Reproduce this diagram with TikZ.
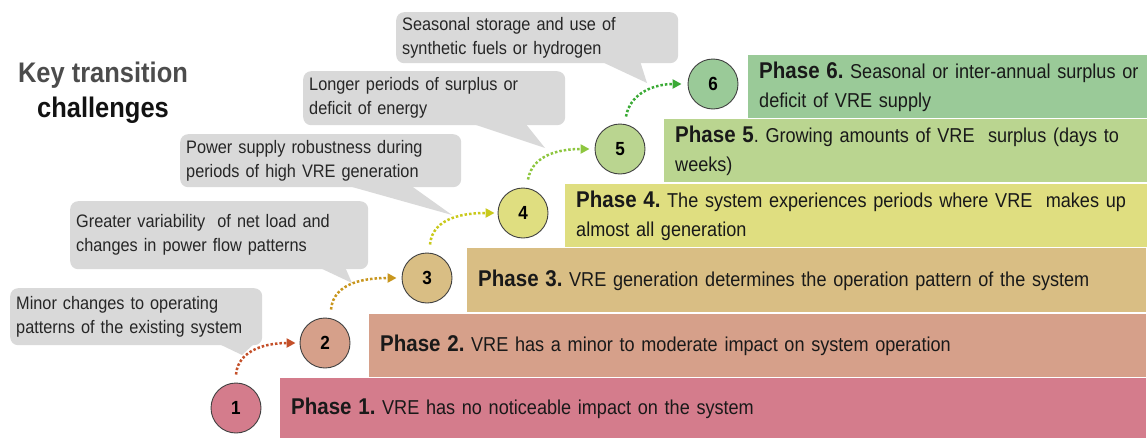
\documentclass[tikz,border=0pt]{standalone}
\usepackage{fontspec}
\setmainfont{Liberation Sans}[FakeStretch = 0.9]
\usetikzlibrary{
    arrows.meta,
    positioning
}
\definecolor{phaseone}{HTML}{D47C8C}
\definecolor{phasetwo}{HTML}{D6A08A}
\definecolor{phasethree}{HTML}{D9BE84}
\definecolor{phasefour}{HTML}{DFDE80}
\definecolor{phasefive}{HTML}{BAD590}
\definecolor{phasesix}{HTML}{9ACA98}
\definecolor{hopone}{HTML}{C4502A}
\definecolor{hoptwo}{HTML}{C8961E}
\definecolor{hopthree}{HTML}{C9C91C}
\definecolor{hopfour}{HTML}{8DC63F}
\definecolor{hopfive}{HTML}{3AAA35}
\definecolor{notegray}{HTML}{D9D9D9}
\newcommand{\phasetag}[1]{{\fontsize{22.8}{29}\selectfont\bfseries #1}}
\tikzset {
    phase/.style = {
        rectangle, anchor = north west,
        inner xsep = 11pt, inner ysep = 0pt,
        align = left, text = black!90,
        font = \fontsize{20.1}{29}\selectfont\frenchspacing
    },
    stage/.style = {
        circle, draw = black!75, line width = 0.9pt,
        minimum size = 50pt, inner sep = 0pt,
        font = \fontsize{19}{19}\selectfont\bfseries
    },
    note/.style = {
        rectangle, rounded corners = 8pt, fill = notegray,
        anchor = north west, inner xsep = 6pt, inner ysep = 0pt,
        align = left, text = black!85,
        font = \fontsize{18.1}{24}\selectfont
    },
    tail/.style = {fill = notegray},
    title/.style = {font = \fontsize{28.3}{35}\selectfont\bfseries},
    hop/.style = {
        line width = 2.5pt, dash pattern = on 2.5pt off 2pt,
        -{Triangle[length = 9pt, width = 9pt]}
    }
}
\begin{document}
\begin{tikzpicture}[x = 1pt, y = -1pt]
    \useasboundingbox (0, 0) rectangle (1147, 439);
    % title
    \node (key) [title, text = black!70] at (103, 75) {Key transition};
    \node (chal) [title, text = black!93] at (103, 110) {challenges};
    % phase bars (they run past the right edge)
    \node (p1) [phase, fill = phaseone, text width = 844pt, minimum height = 60pt]
        at (280, 378) {\phasetag{Phase 1.} VRE has no noticeable impact on the system};
    \node (p2) [phase, fill = phasetwo, text width = 755pt, minimum height = 63pt]
        at (369, 314) {\phasetag{Phase 2.} VRE has a minor to moderate impact on system operation};
    \node (p3) [phase, fill = phasethree, text width = 657pt, minimum height = 64pt]
        at (467, 248) {\phasetag{Phase 3.} VRE generation determines the operation pattern of the system};
    \node (p4) [phase, fill = phasefour, text width = 580pt, minimum height = 63pt]
        at (565, 184) {\phasetag{Phase 4.} The system experiences periods where VRE~ makes up\\almost all generation};
    \node (p5) [phase, fill = phasefive, text width = 480pt, minimum height = 63pt]
        at (664, 119) {\phasetag{Phase 5}. Growing amounts of VRE~ surplus (days to\\weeks)};
    \node (p6) [phase, fill = phasesix, text width = 400pt, minimum height = 63pt]
        at (748, 55) {\phasetag{Phase 6.} Seasonal or inter-annual surplus or\\deficit of VRE supply};
    % stages
    \node (s1) [stage, fill = phaseone] at (236, 408) {1};
    \node (s2) [stage, fill = phasetwo] at (325, 343) {2};
    \node (s3) [stage, fill = phasethree] at (427, 278) {3};
    \node (s4) [stage, fill = phasefour] at (523, 213) {4};
    \node (s5) [stage, fill = phasefive] at (620, 149) {5};
    \node (s6) [stage, fill = phasesix] at (713, 84) {6};
    \draw [hop, hopone] ([yshift = 8pt] s1.north) to [out = 85, in = 180] ([xshift = -4pt] s2.west);
    \draw [hop, hoptwo] ([xshift = 6pt, yshift = 8pt] s2.north) to [out = 85, in = 180] ([xshift = -5pt] s3.west);
    \draw [hop, hopthree] ([xshift = 3pt, yshift = 8pt] s3.north) to [out = 85, in = 180] ([xshift = -3pt] s4.west);
    \draw [hop, hopfour] ([xshift = 5pt, yshift = 8pt] s4.north) to [out = 80, in = 180] ([xshift = -5pt] s5.west);
    \draw [hop, hopfive] ([xshift = 6pt, yshift = 7pt] s5.north) to [out = 80, in = 180] ([xshift = -6pt] s6.west);
    % challenges
    \node (m1) [note, text width = 240pt, minimum height = 57pt] at (10, 288)
        {Minor changes to operating\\patterns of the existing system};
    \fill [tail] (217, 343) -- (242, 355) -- (255, 343) -- cycle;
    \node (m2) [note, text width = 286pt, minimum height = 68pt] at (70, 201)
        {Greater variability~ of net load and\\changes in power flow patterns};
    \fill [tail] (318, 267) -- (352, 283) -- (345, 267) -- cycle;
    \node (m3) [note, text width = 269pt, minimum height = 53pt] at (180, 134)
        {Power supply robustness during\\periods of high VRE generation};
    \fill [tail] (345, 185) -- (452, 215) -- (410, 185) -- cycle;
    \node (m4) [note, text width = 250pt, minimum height = 54pt] at (303, 71)
        {Longer periods of surplus or\\deficit of energy};
    \fill [tail] (470, 123) -- (545, 148) -- (525, 123) -- cycle;
    \node (m5) [note, text width = 270pt, minimum height = 51pt] at (396, 12)
        {Seasonal storage and use of\\synthetic fuels or hydrogen};
    \fill [tail] (600, 61) -- (647, 83) -- (640, 61) -- cycle;
\end{tikzpicture}
\end{document}
